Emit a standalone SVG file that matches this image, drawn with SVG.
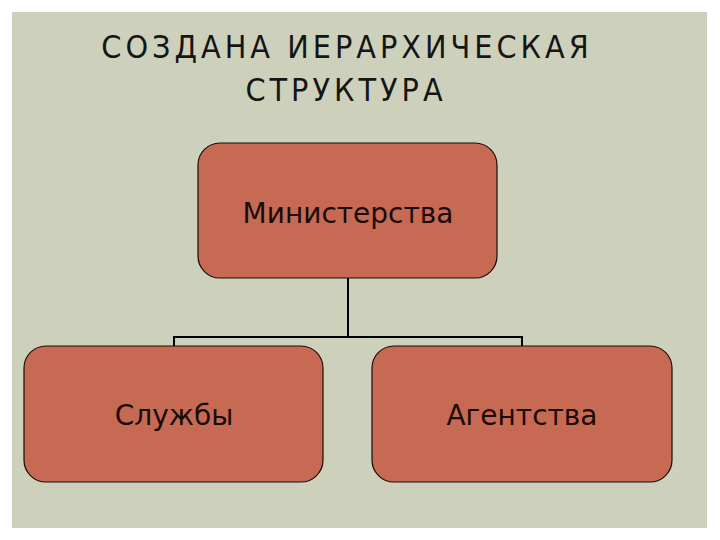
<svg xmlns="http://www.w3.org/2000/svg" width="720" height="540" viewBox="0 0 720 540">
<style>
.box{fill:#C66A53;stroke:#1a0a05;stroke-width:1.2}
.lbl{font-family:"DejaVu Sans","Noto Sans",sans-serif;font-size:28px;fill:#1a0a08;text-anchor:middle}
.title{font-family:"Liberation Sans Narrow","DejaVu Sans Condensed","Liberation Sans",sans-serif;font-size:32px;fill:#151515;text-anchor:middle;letter-spacing:4px}
.conn{stroke:#000;stroke-width:2;fill:none}
</style>
<rect x="0" y="0" width="720" height="540" fill="#ffffff"/>
<rect x="12" y="12" width="695" height="516" fill="#CDD1BC"/>
<g id="title">
<text class="title" x="347" y="58">СОЗДАНА ИЕРАРХИЧЕСКАЯ</text>
<text class="title" x="346" y="101">СТРУКТУРА</text>
</g>
<g id="connectors">
<path class="conn" d="M348 278 V337 M174 346 V337 H522 V346"/>
</g>
<g id="ministry">
<rect class="box" x="198" y="143" width="299" height="135" rx="22"/>
<text class="lbl" x="348" y="223">Министерства</text>
</g>
<g id="services">
<rect class="box" x="24" y="346" width="299" height="136" rx="22"/>
<text class="lbl" x="174" y="425">Службы</text>
</g>
<g id="agencies">
<rect class="box" x="372" y="346" width="300" height="136" rx="22"/>
<text class="lbl" x="522" y="425">Агентства</text>
</g>
</svg>
